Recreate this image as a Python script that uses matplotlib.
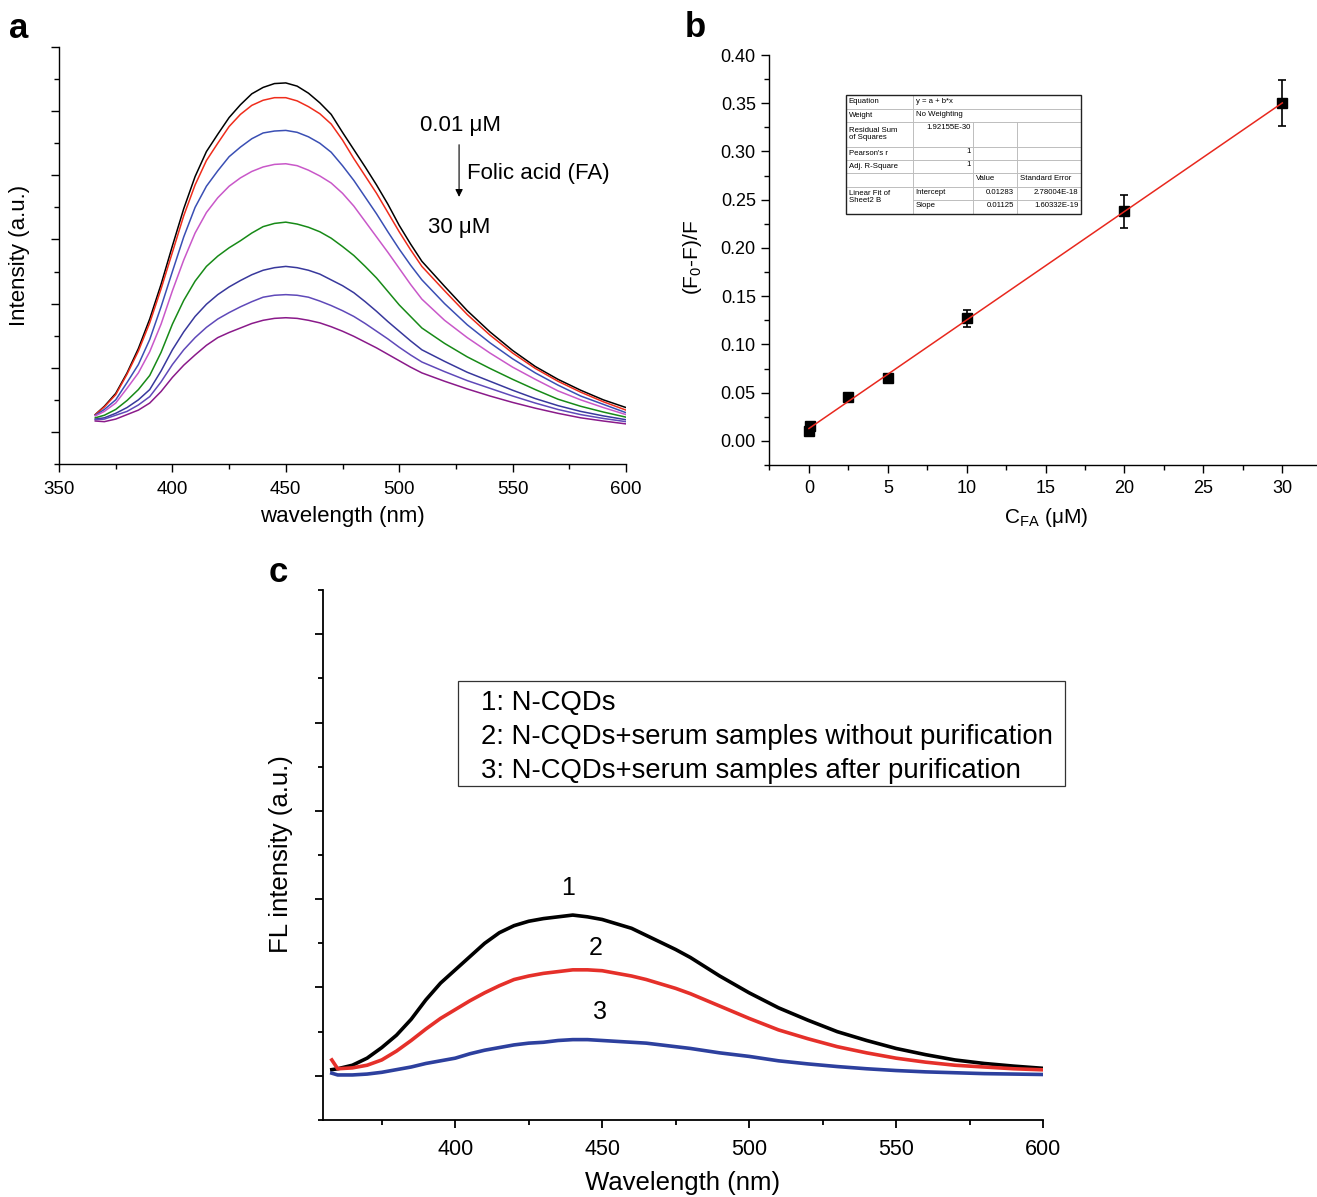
import matplotlib
matplotlib.use('Agg')
import matplotlib.pyplot as plt
from matplotlib.ticker import MultipleLocator, FormatStrFormatter, NullFormatter
from matplotlib.patches import Rectangle

plt.rcParams['font.family'] = ['Liberation Sans', 'DejaVu Sans']
plt.rcParams['mathtext.fontset'] = 'custom'
plt.rcParams['mathtext.rm'] = 'Liberation Sans'
plt.rcParams['mathtext.it'] = 'Liberation Sans:italic'
plt.rcParams['mathtext.default'] = 'regular'

# ---------------- Panel a data ----------------
wl_a = [366, 370, 375, 380, 385, 390, 395, 400, 405, 410, 415, 420, 425, 430, 435, 440, 445, 450,
        455, 460, 465, 470, 475, 480, 485, 490, 495, 500, 505, 510, 520, 530, 540, 550, 560, 570,
        580, 590, 600]
int_a_1 = [0.27, 0.40, 0.60, 0.92, 1.30, 1.76, 2.30, 2.90, 3.48, 3.98, 4.37, 4.64, 4.90, 5.10, 5.27,
           5.37, 5.43, 5.44, 5.39, 5.28, 5.13, 4.95, 4.67, 4.40, 4.13, 3.85, 3.55, 3.22, 2.93, 2.66,
           2.27, 1.89, 1.56, 1.27, 1.02, 0.82, 0.65, 0.50, 0.38]
int_a_2 = [0.27, 0.39, 0.58, 0.90, 1.26, 1.70, 2.23, 2.80, 3.37, 3.85, 4.23, 4.50, 4.76, 4.95, 5.09,
           5.17, 5.21, 5.21, 5.16, 5.07, 4.96, 4.80, 4.55, 4.26, 3.99, 3.72, 3.42, 3.12, 2.84, 2.58,
           2.20, 1.83, 1.51, 1.23, 0.99, 0.79, 0.62, 0.47, 0.34]
int_a_3 = [0.26, 0.35, 0.50, 0.77, 1.05, 1.44, 1.95, 2.50, 3.04, 3.50, 3.83, 4.07, 4.29, 4.44, 4.57,
           4.66, 4.69, 4.70, 4.67, 4.60, 4.50, 4.36, 4.15, 3.92, 3.66, 3.40, 3.12, 2.85, 2.60, 2.37,
           2.00, 1.67, 1.39, 1.14, 0.92, 0.73, 0.56, 0.43, 0.30]
int_a_4 = [0.25, 0.32, 0.45, 0.68, 0.92, 1.25, 1.68, 2.20, 2.68, 3.10, 3.42, 3.65, 3.83, 3.96, 4.06,
           4.13, 4.17, 4.18, 4.15, 4.08, 3.99, 3.88, 3.72, 3.52, 3.28, 3.04, 2.80, 2.55, 2.30, 2.07,
           1.74, 1.47, 1.23, 1.01, 0.82, 0.64, 0.50, 0.38, 0.27]
int_a_5 = [0.22, 0.26, 0.35, 0.49, 0.66, 0.88, 1.24, 1.68, 2.05, 2.35, 2.58, 2.74, 2.87, 2.98, 3.10,
           3.20, 3.25, 3.27, 3.24, 3.19, 3.12, 3.02, 2.89, 2.75, 2.58, 2.40, 2.19, 1.98, 1.80, 1.62,
           1.38, 1.17, 0.99, 0.82, 0.66, 0.51, 0.40, 0.31, 0.23]
int_a_6 = [0.20, 0.22, 0.29, 0.38, 0.50, 0.66, 0.95, 1.28, 1.56, 1.80, 1.99, 2.14, 2.26, 2.36, 2.45,
           2.52, 2.56, 2.58, 2.56, 2.52, 2.46, 2.37, 2.28, 2.17, 2.03, 1.88, 1.72, 1.57, 1.42, 1.28,
           1.10, 0.93, 0.79, 0.65, 0.52, 0.41, 0.32, 0.25, 0.19]
int_a_7 = [0.19, 0.20, 0.26, 0.32, 0.42, 0.55, 0.78, 1.05, 1.28, 1.47, 1.63, 1.76, 1.86, 1.95, 2.03,
           2.10, 2.13, 2.14, 2.13, 2.10, 2.04, 1.97, 1.89, 1.80, 1.69, 1.57, 1.45, 1.32, 1.20, 1.09,
           0.94, 0.80, 0.68, 0.56, 0.45, 0.35, 0.27, 0.21, 0.16]
int_a_8 = [0.17, 0.16, 0.20, 0.27, 0.34, 0.45, 0.63, 0.85, 1.04, 1.20, 1.35, 1.47, 1.55, 1.62, 1.69,
           1.74, 1.77, 1.78, 1.77, 1.74, 1.70, 1.64, 1.57, 1.49, 1.40, 1.31, 1.21, 1.11, 1.01, 0.92,
           0.79, 0.67, 0.56, 0.46, 0.37, 0.29, 0.22, 0.17, 0.125]
colors_a = ['#000000', '#ef2d1c', '#3a4fb4', '#c958c9', '#178a17', '#38389c', '#5f49b9', '#8a1a8a']

# ---------------- Panel b data ----------------
conc_b = [0.01, 0.1, 2.5, 5, 10, 20, 30]
ratio_b = [0.010, 0.015, 0.046, 0.065, 0.127, 0.238, 0.350]
err_b = [0.002, 0.002, 0.002, 0.002, 0.009, 0.017, 0.024]
fit_intercept = 0.01283
fit_slope = 0.01125
fit_range = [0, 30]

table_left_col = ['Equation', 'Weight', 'Residual Sum\nof Squares', "Pearson's r",
                  'Adj. R-Square', '', 'Linear Fit of\nSheet2 B']
table_equation = 'y = a + b*x'
table_weight = 'No Weighting'
table_rss = '1.92155E-30'
table_pearson = '1'
table_adjr2 = '1'
table_header = ['Value', 'Standard Error']
table_params = ['Intercept', 'Slope']
table_values = ['0.01283', '0.01125']
table_errors = ['2.78004E-18', '1.60332E-19']

# ---------------- Panel c data ----------------
wl_c = [358, 360, 365, 370, 375, 380, 385, 390, 395, 400, 405, 410, 415, 420, 425, 430, 435, 440,
        445, 450, 455, 460, 465, 470, 475, 480, 490, 500, 510, 520, 530, 540, 550, 560, 570, 580,
        590, 600]
int_c_1 = [0.07, 0.08, 0.12, 0.20, 0.32, 0.46, 0.64, 0.86, 1.05, 1.20, 1.35, 1.50, 1.62, 1.70, 1.75,
           1.78, 1.80, 1.82, 1.80, 1.77, 1.72, 1.67, 1.59, 1.51, 1.43, 1.34, 1.13, 0.94, 0.77, 0.63,
           0.50, 0.40, 0.31, 0.24, 0.18, 0.14, 0.11, 0.085]
int_c_2 = [0.18, 0.08, 0.09, 0.12, 0.18, 0.28, 0.40, 0.53, 0.65, 0.75, 0.85, 0.94, 1.02, 1.09, 1.13,
           1.16, 1.18, 1.20, 1.20, 1.19, 1.16, 1.13, 1.09, 1.04, 0.99, 0.93, 0.79, 0.65, 0.52, 0.42,
           0.33, 0.26, 0.20, 0.155, 0.12, 0.10, 0.08, 0.068]
int_c_3 = [0.03, 0.01, 0.01, 0.02, 0.04, 0.07, 0.10, 0.14, 0.17, 0.20, 0.25, 0.29, 0.32, 0.35, 0.37,
           0.38, 0.40, 0.41, 0.41, 0.40, 0.39, 0.38, 0.37, 0.35, 0.33, 0.31, 0.26, 0.22, 0.17, 0.135,
           0.105, 0.08, 0.06, 0.045, 0.035, 0.025, 0.02, 0.015]
colors_c = ['#000000', '#e5302a', '#2d409e']
curve_labels_c = ['1', '2', '3']
legend_lines_c = ['1: N-CQDs',
                  '2: N-CQDs+serum samples without purification',
                  '3: N-CQDs+serum samples after purification']

W, H = 1317, 1197
fig = plt.figure(figsize=(W / 100, H / 100), dpi=100)


def px_axes(x0, y0, x1, y1):
    return fig.add_axes([x0 / W, 1 - y1 / H, (x1 - x0) / W, (y1 - y0) / H])


def style_axes(ax, lw=1.0):
    for s in ('top', 'right'):
        ax.spines[s].set_visible(False)
    for s in ('left', 'bottom'):
        ax.spines[s].set_linewidth(lw)


# ================= Panel a =================
ax_a = px_axes(59, 47, 626, 464)
style_axes(ax_a)
for ys, c in zip([int_a_1, int_a_2, int_a_3, int_a_4, int_a_5, int_a_6, int_a_7, int_a_8], colors_a):
    ax_a.plot(wl_a, ys, color=c, lw=1.1)
ax_a.set_xlim(350, 600)
ax_a.set_ylim(-0.5, 6.0)
ax_a.xaxis.set_major_locator(MultipleLocator(50))
ax_a.xaxis.set_minor_locator(MultipleLocator(25))
ax_a.yaxis.set_major_locator(MultipleLocator(1))
ax_a.yaxis.set_minor_locator(MultipleLocator(0.5))
ax_a.yaxis.set_major_formatter(NullFormatter())
ax_a.tick_params(which='major', direction='out', length=6, width=1.0, labelsize=13.5, pad=6)
ax_a.tick_params(which='minor', direction='out', length=3.5, width=1.0)
ax_a.set_xlabel('wavelength (nm)', fontsize=16)
ax_a.set_ylabel('Intensity (a.u.)', fontsize=16)
ax_a.xaxis.label.set_va('center')
ax_a.yaxis.label.set_va('center')
ax_a.xaxis.set_label_coords(0.499, -0.127)
ax_a.yaxis.set_label_coords(-0.069, 0.5)
ax_a.text(509.2, 4.78, '0.01 μM', fontsize=16, ha='left', va='center')
ax_a.text(529.9, 4.03, 'Folic acid (FA)', fontsize=16, ha='left', va='center')
ax_a.text(512.7, 3.19, '30 μM', fontsize=16, ha='left', va='center')
ax_a.annotate('', xy=(526.4, 3.62), xytext=(526.4, 4.52),
              arrowprops=dict(arrowstyle='-|>', color='k', lw=0.8, mutation_scale=11))

# ================= Panel b =================
ax_b = px_axes(769, 55, 1317, 465)
style_axes(ax_b)
ax_b.plot(fit_range, [fit_intercept + fit_slope * x for x in fit_range],
          color='#e8281e', lw=1.1, zorder=3)
ax_b.errorbar(conc_b, ratio_b, yerr=err_b, fmt='s', color='k', ms=7, capsize=3.2,
              elinewidth=1.2, capthick=1.2, zorder=2)
ax_b.set_xlim(-2.53, 32.2)
ax_b.set_ylim(-0.025, 0.40)
ax_b.xaxis.set_major_locator(MultipleLocator(5))
ax_b.xaxis.set_minor_locator(MultipleLocator(2.5))
ax_b.yaxis.set_major_locator(MultipleLocator(0.05))
ax_b.yaxis.set_minor_locator(MultipleLocator(0.025))
ax_b.yaxis.set_major_formatter(FormatStrFormatter('%.2f'))
ax_b.tick_params(which='major', direction='out', length=6, width=1.0, labelsize=13, pad=5)
ax_b.tick_params(axis='y', which='major', pad=3.5)
ax_b.tick_params(which='minor', direction='out', length=3.5, width=1.0)
ax_b.set_xlabel('C$_{FA}$ (μM)', fontsize=15)
ax_b.set_ylabel('(F$_0$-F)/F', fontsize=15)
ax_b.xaxis.label.set_va('center')
ax_b.yaxis.label.set_va('center')
ax_b.xaxis.set_label_coords(0.5055, -0.129)
ax_b.yaxis.set_label_coords(-0.139, 0.505)

# ================= Panel c =================
ax_c = px_axes(323, 590, 1043, 1120)
style_axes(ax_c, lw=1.3)
for ys, c in zip([int_c_1, int_c_2, int_c_3], colors_c):
    ax_c.plot(wl_c, ys, color=c, lw=2.6)
ax_c.set_xlim(355, 600)
ax_c.set_ylim(-0.5, 5.5)
ax_c.xaxis.set_major_locator(MultipleLocator(50))
ax_c.xaxis.set_minor_locator(MultipleLocator(25))
ax_c.yaxis.set_major_locator(MultipleLocator(1))
ax_c.yaxis.set_minor_locator(MultipleLocator(0.5))
ax_c.yaxis.set_major_formatter(NullFormatter())
ax_c.tick_params(which='major', direction='out', length=6, width=1.3, labelsize=15.5, pad=8)
ax_c.tick_params(which='minor', direction='out', length=3.5, width=1.3)
ax_c.set_xlabel('Wavelength (nm)', fontsize=18.5)
ax_c.set_ylabel('FL intensity (a.u.)', fontsize=18.5)
ax_c.xaxis.label.set_va('center')
ax_c.yaxis.label.set_va('center')
ax_c.xaxis.set_label_coords(0.5, -0.119)
ax_c.yaxis.set_label_coords(-0.058, 0.502)
for (lx, ly), t in zip([(438.5, 2.13), (447.7, 1.45), (449.1, 0.72)], curve_labels_c):
    ax_c.text(lx, ly, t, fontsize=18, ha='center', va='center')
ax_c.add_patch(Rectangle((0.1875, 0.6302), 1.0306 - 0.1875, 0.8283 - 0.6302,
                         transform=ax_c.transAxes, fill=False, edgecolor='#333333',
                         lw=0.9, clip_on=False))
for ty, t in zip([0.7868, 0.7226, 0.6585], legend_lines_c):
    ax_c.text(0.2194, ty, t, transform=ax_c.transAxes, fontsize=19.8, ha='left', va='center')

# ================= Overlay: panel letters and fit table =================
ov = fig.add_axes([0, 0, 1, 1], zorder=10)
ov.set_xlim(0, W)
ov.set_ylim(H, 0)
ov.axis('off')
ov.patch.set_alpha(0)
for (lx, ly), t in zip([(9, 38), (685, 37), (269, 582)], ['a', 'b', 'c']):
    ov.text(lx, ly, t, fontsize=25, fontweight='bold', ha='left', va='baseline')

cx = [845.7, 912.7, 973.3, 1016.7, 1080.7]
ry = [94.7, 109, 121.7, 146.7, 160, 173.3, 186.7, 200, 214.3]
ov.add_patch(Rectangle((cx[0], ry[0]), cx[-1] - cx[0], ry[-1] - ry[0],
                       facecolor='white', edgecolor='none', zorder=1))
gcol = '#bdbdbd'
for y in ry[1:7]:
    ov.plot([cx[0], cx[-1]], [y, y], color=gcol, lw=0.7, zorder=2)
ov.plot([cx[1], cx[-1]], [ry[7], ry[7]], color=gcol, lw=0.7, zorder=2)
ov.plot([cx[1], cx[1]], [ry[0], ry[-1]], color=gcol, lw=0.7, zorder=2)
for x in cx[2:4]:
    ov.plot([x, x], [ry[2], ry[-1]], color=gcol, lw=0.7, zorder=2)
ov.add_patch(Rectangle((cx[0], ry[0]), cx[-1] - cx[0], ry[-1] - ry[0],
                       fill=False, edgecolor='#222222', lw=1.0, zorder=3))
tfs = 5.6
left_y = [101.8, 115.3, 134, 153.3, 166.6, 180, 197]
for t, y in zip(table_left_col, left_y):
    if t:
        ov.text(cx[0] + 3, y, t, fontsize=tfs, ha='left', va='center', linespacing=1.05, zorder=4)
ov.text(cx[1] + 3, 101.2, table_equation, fontsize=tfs, ha='left', va='center', zorder=4)
ov.text(cx[1] + 3, 114.8, table_weight, fontsize=tfs, ha='left', va='center', zorder=4)
ov.text(cx[2] - 3, 127.2, table_rss, fontsize=tfs, ha='right', va='center', zorder=4)
ov.text(cx[2] - 3, 151.5, table_pearson, fontsize=tfs, ha='right', va='center', zorder=4)
ov.text(cx[2] - 3, 164.8, table_adjr2, fontsize=tfs, ha='right', va='center', zorder=4)
ov.text(cx[2] + 3, 178, table_header[0], fontsize=tfs, ha='left', va='center', zorder=4)
ov.text(cx[3] + 3, 178, table_header[1], fontsize=tfs, ha='left', va='center', zorder=4)
for i, yy in enumerate([192.8, 205.5]):
    ov.text(cx[1] + 3, yy, table_params[i], fontsize=tfs, ha='left', va='center', zorder=4)
    ov.text(cx[3] - 3, yy, table_values[i], fontsize=tfs, ha='right', va='center', zorder=4)
    ov.text(cx[4] - 2, yy, table_errors[i], fontsize=tfs, ha='right', va='center', zorder=4)

fig.savefig('out.png', dpi=100)
